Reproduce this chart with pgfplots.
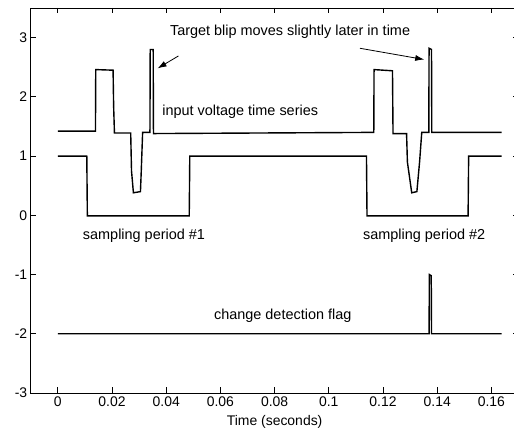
\documentclass[border=0pt]{standalone}
\usepackage{fontspec}
\setmainfont{Liberation Sans}
\usepackage{pgfplots}
\pgfplotsset{compat=1.18}
\usetikzlibrary{arrows.meta}
\begin{document}
\begin{tikzpicture}
\begin{axis}[
  name=ax,
  scale only axis,
  width=487.8bp, height=385bp,
  xmin=-0.01, xmax=0.17,
  ymin=-3, ymax=3.5,
  xtick={0,0.02,0.04,0.06,0.08,0.1,0.12,0.14,0.16},
  xticklabels={0,0.02,0.04,0.06,0.08,0.1,0.12,0.14,0.16},
  ytick={-3,-2,-1,0,1,2,3},
  yticklabels={-3,-2,-1,0,1,2,3},
  tick align=inside,
  major tick length=5.5bp,
  axis line style={line width=0.9bp},
  every tick/.style={black, line width=0.7bp},
  tick label style={font=\fontsize{14}{16}\selectfont},
  xlabel={Time (seconds)},
  xlabel style={font=\fontsize{14}{16}\selectfont, at={(axis description cs:0.5,0)}, anchor=center, yshift=-29.3bp},
  clip=false,
]
\addplot[black, line width=1.4bp] coordinates {
(0,1.42) (0.0139,1.42) (0.0140,2.46) (0.0204,2.45) (0.0206,1.85) (0.0209,1.39)
(0.0269,1.39) (0.0272,0.75) (0.0279,0.38) (0.0305,0.40) (0.0308,0.75) (0.0313,1.40)
(0.0340,1.40) (0.0341,2.80) (0.0352,2.80) (0.0353,1.38) (0.1166,1.40) (0.1167,2.46)
(0.1235,2.44) (0.1237,1.38) (0.1287,1.38) (0.1290,0.90) (0.1306,0.38) (0.1325,0.40)
(0.1335,0.90) (0.1343,1.40) (0.1369,1.40) (0.1370,2.82) (0.1379,2.80) (0.1380,1.40)
(0.1638,1.40)
};
\addplot[black, line width=1.4bp] coordinates {
(0,1.0) (0.0107,1.0) (0.0109,-0.01) (0.0485,-0.01) (0.0487,1.0) (0.1139,1.0)
(0.1141,-0.01) (0.1514,-0.01) (0.1516,1.0) (0.1638,1.0)
};
\addplot[black, line width=1.4bp] coordinates {
(0,-2) (0.1370,-2) (0.1371,-1.0) (0.1378,-1.02) (0.1379,-2) (0.1638,-2)
};
\node[font=\fontsize{14.5}{17}\selectfont] at (axis cs:0.0857,3.10) {Target blip moves slightly later in time};
\node[font=\fontsize{14.5}{17}\selectfont] at (axis cs:0.0673,1.75) {input voltage time series};
\node[font=\fontsize{14.5}{17}\selectfont] at (axis cs:0.0318,-0.34) {sampling period \#1};
\node[font=\fontsize{14.5}{17}\selectfont] at (axis cs:0.1352,-0.34) {sampling period \#2};
\node[font=\fontsize{14.5}{17}\selectfont] at (axis cs:0.0830,-1.69) {change detection flag};
\draw[black, line width=0.8bp, -{Latex[length=9bp,width=6bp]}] (axis cs:0.0445,2.69) -- (axis cs:0.0368,2.48);
\draw[black, line width=0.8bp, -{Latex[length=9bp,width=6bp]}] (axis cs:0.1115,2.82) -- (axis cs:0.1352,2.63);
\end{axis}
\pgfresetboundingbox
\path ([shift={(-30.7bp,-41.3bp)}]ax.south west) rectangle ([shift={(483.3bp,393bp)}]ax.south west);
\end{tikzpicture}
\end{document}
